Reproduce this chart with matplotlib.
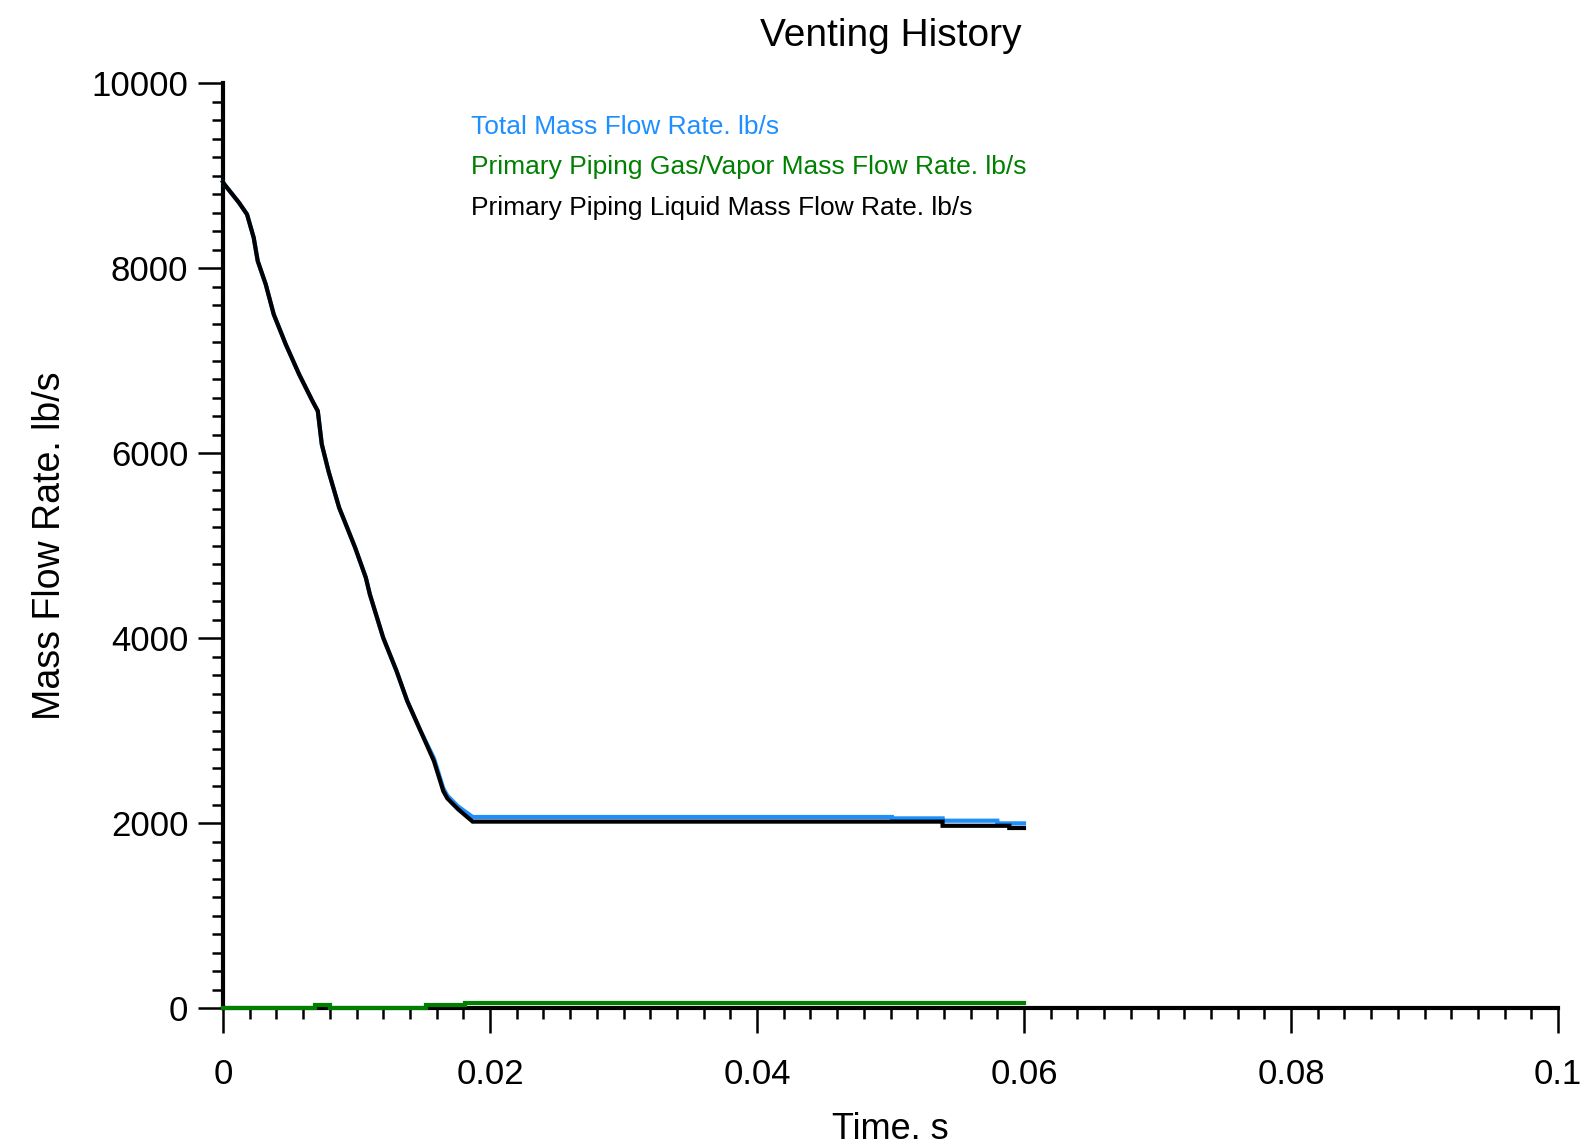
import matplotlib
matplotlib.use("Agg")
import matplotlib.pyplot as plt
from matplotlib.ticker import MultipleLocator
from matplotlib.lines import Line2D

# ---- data ----
time_liquid = [0.0, 0.0001, 0.0012, 0.0018, 0.0023, 0.0026, 0.0032, 0.0038, 0.0047,
               0.0057, 0.0067, 0.0071, 0.0074, 0.0079, 0.0087, 0.0092, 0.0099, 0.0107,
               0.0110, 0.0120, 0.0130, 0.0138, 0.0148, 0.0158, 0.0165, 0.0168, 0.0176,
               0.0187, 0.0539, 0.0539, 0.0589, 0.0589, 0.0600]
liquid_flow = [8930, 8905, 8706, 8580, 8328, 8076, 7824, 7499, 7175,
               6851, 6562, 6454, 6094, 5805, 5409, 5229, 4976, 4652,
               4472, 4003, 3643, 3319, 2995, 2670, 2346, 2267, 2150,
               2015, 2015, 1970, 1970, 1946, 1946]

time_total = [0.0, 0.0001, 0.0012, 0.0018, 0.0023, 0.0026, 0.0032, 0.0038, 0.0047,
              0.0057, 0.0067, 0.0071, 0.0074, 0.0079, 0.0087, 0.0092, 0.0099, 0.0107,
              0.0110, 0.0120, 0.0130, 0.0138, 0.0148, 0.0158, 0.0165, 0.0168, 0.0176,
              0.0187, 0.0501, 0.0501, 0.0539, 0.0539, 0.0580, 0.0580, 0.0600]
total_flow = [8930, 8905, 8706, 8580, 8328, 8076, 7824, 7499, 7175,
              6851, 6562, 6454, 6094, 5805, 5409, 5229, 4976, 4652,
              4472, 4003, 3643, 3319, 2995, 2700, 2376, 2297, 2180,
              2065, 2065, 2050, 2050, 2025, 2025, 1996, 1996]

time_gas = [0.0, 0.0069, 0.0069, 0.0080, 0.0080, 0.0152, 0.0152, 0.0181, 0.0181, 0.0600]
gas_flow = [0, 0, 35, 35, 0, 0, 30, 30, 55, 55]

series_labels = ["Total Mass Flow Rate. lb/s",
                 "Primary Piping Gas/Vapor Mass Flow Rate. lb/s",
                 "Primary Piping Liquid Mass Flow Rate. lb/s"]
series_colors = ["#1E8FFF", "#008000", "#000000"]

x_ticks = [0, 0.02, 0.04, 0.06, 0.08, 0.1]
x_ticklabels = ["0", "0.02", "0.04", "0.06", "0.08", "0.1"]
y_ticks = [0, 2000, 4000, 6000, 8000, 10000]

# ---- figure ----
plt.rcParams['font.family'] = ['Liberation Sans', 'DejaVu Sans']
fig = plt.figure(figsize=(15.95, 11.48), dpi=100)
ax = fig.add_axes([223/1595, 1 - 1008/1148, (1558-223)/1595, (1008-83)/1148])

lw = 3.0
ax.plot(time_total, total_flow, color=series_colors[0], lw=lw, clip_on=False,
        solid_joinstyle='miter', zorder=3)
ax.plot(time_liquid, liquid_flow, color=series_colors[2], lw=lw, clip_on=False,
        solid_joinstyle='miter', zorder=4)
ax.plot(time_gas, gas_flow, color=series_colors[1], lw=lw, clip_on=False,
        solid_joinstyle='miter', zorder=5)

ax.set_xlim(0, 0.1)
ax.set_ylim(0, 10000)
ax.set_xticks(x_ticks)
ax.set_xticklabels(x_ticklabels)
ax.set_yticks(y_ticks)
ax.xaxis.set_minor_locator(MultipleLocator(0.002))
ax.yaxis.set_minor_locator(MultipleLocator(200))

for s in ['top', 'right']:
    ax.spines[s].set_visible(False)
for s in ['left', 'bottom']:
    ax.spines[s].set_linewidth(3.0)
    ax.spines[s].set_zorder(2)

ax.tick_params(axis='both', which='major', direction='out', length=18, width=1.8,
               labelsize=25, colors='black')
ax.tick_params(axis='both', which='minor', direction='out', length=8, width=1.8)
ax.tick_params(axis='x', which='major', pad=18)
ax.tick_params(axis='y', which='major', pad=7)

ax.set_title("Venting History", fontsize=28, pad=27)
ax.set_xlabel("Time. s", fontsize=26, labelpad=15)
ax.set_ylabel("Mass Flow Rate. lb/s", fontsize=27, labelpad=17)

handles = [Line2D([], [], color=c, lw=0) for c in series_colors]
leg = ax.legend(handles, series_labels, loc='upper left',
                bbox_to_anchor=(0.178, 0.977), frameon=False, fontsize=19,
                handlelength=0, handletextpad=0, labelspacing=0.62,
                borderaxespad=0)
for txt, c in zip(leg.get_texts(), series_colors):
    txt.set_color(c)

fig.savefig("out.png", dpi=100, facecolor='white')
